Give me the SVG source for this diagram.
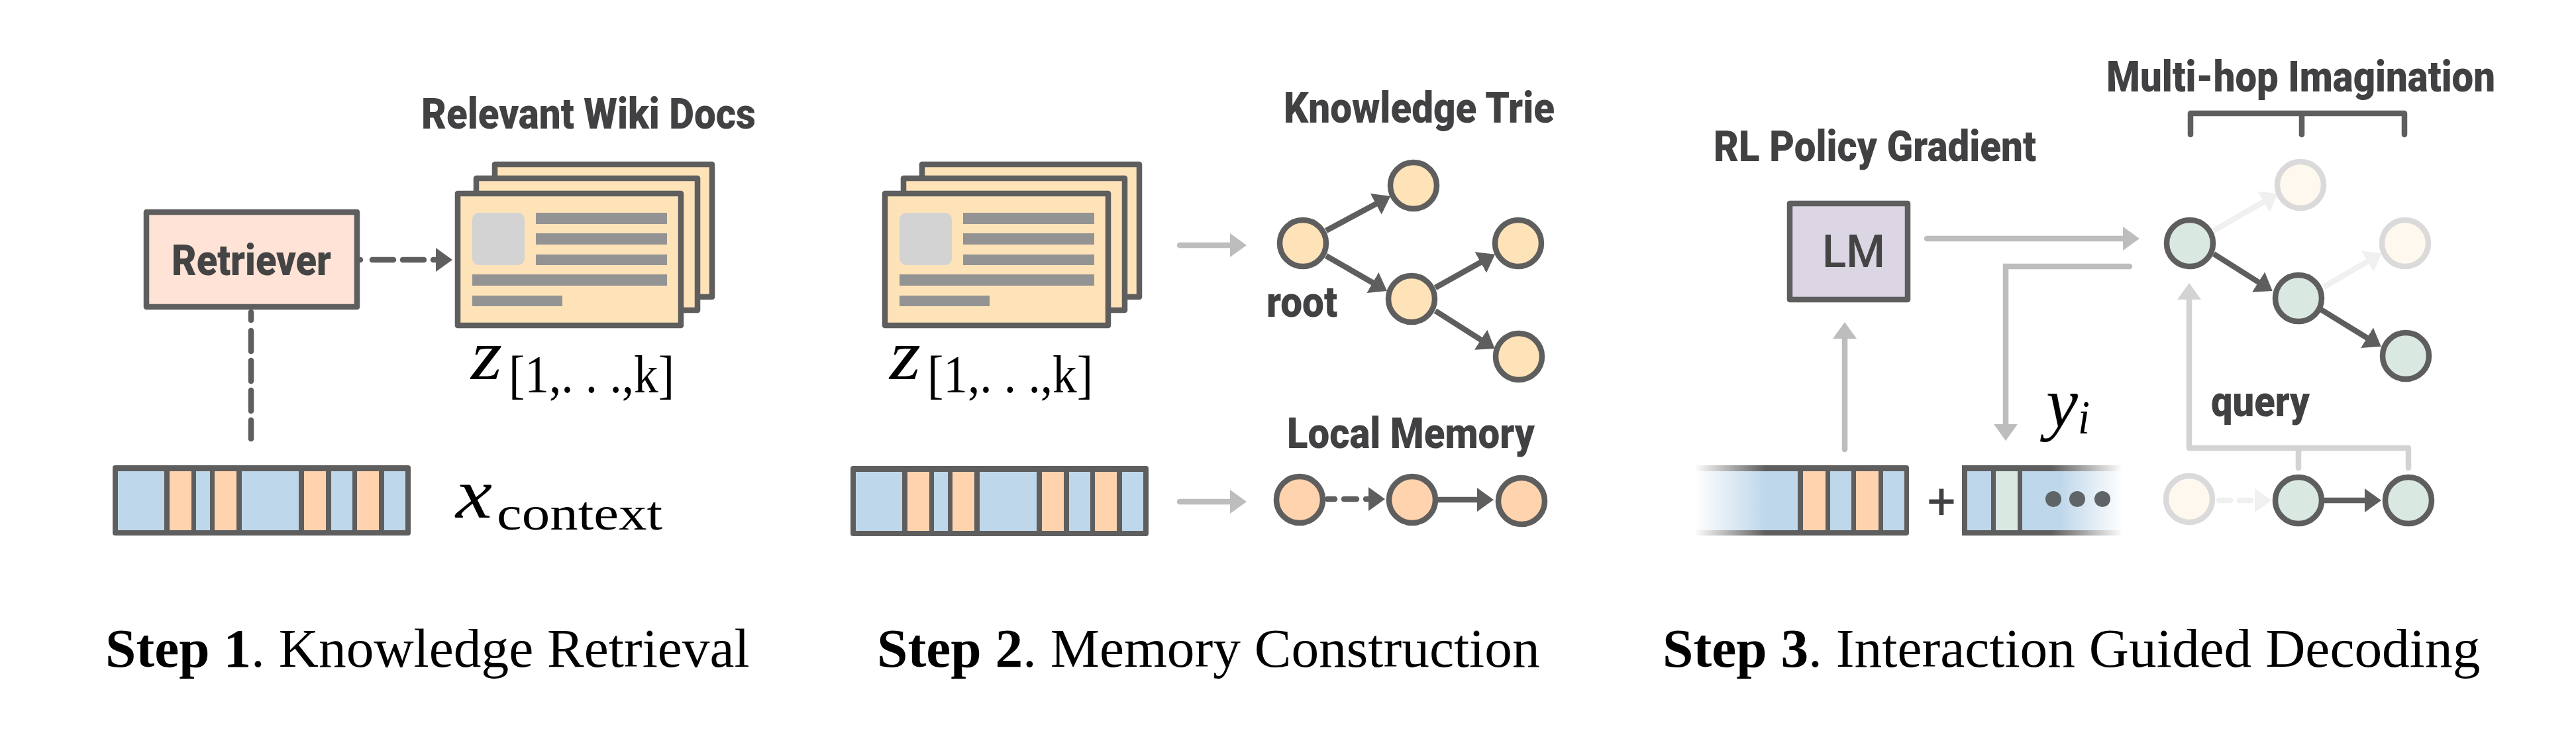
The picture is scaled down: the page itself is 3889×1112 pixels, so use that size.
<svg xmlns="http://www.w3.org/2000/svg" xmlns:xlink="http://www.w3.org/1999/xlink" width="3889" height="1112" viewBox="0 0 3889 1112">
<style>
.lbl{font-family:"Roboto","Liberation Sans",sans-serif;font-weight:900;font-size:65px;fill:#414042}
.math{font-family:"Liberation Serif",serif;fill:#000}
.mi{font-style:italic;font-size:108px}
.ms{font-size:80px}
.cap{font-family:"Liberation Serif",serif;font-size:83.4px;fill:#000}
.cap tspan{font-weight:700}
.n{stroke:#5e5e5e;stroke-width:8.5}
.y{fill:#FEE3B8}.o{fill:#FFD3AE}.g{fill:#D9E8E1}
.ghost{fill:#FFF8EE;stroke:#DADADA;stroke-width:8.5}
.card{fill:#FEE3B8;stroke:#5e5e5e;stroke-width:8.5;stroke-linejoin:round}
.bl{fill:#939393}
.blue{fill:#BFD7EA}.org{fill:#FFD3AE}
.c{fill:none;stroke-width:8.5}
.dk{stroke:#5e5e5e}.gr{stroke:#BDBDBD}.lg{stroke:#D3D3D3}.fa{stroke:#F0F0F0}
</style>
<defs>
<marker id="hd" markerUnits="userSpaceOnUse" markerWidth="25" markerHeight="36" refX="10" refY="18" orient="auto"><path d="M0,0L25,18L0,36z" fill="#5e5e5e"/></marker>
<marker id="hg" markerUnits="userSpaceOnUse" markerWidth="25" markerHeight="36" refX="10" refY="18" orient="auto"><path d="M0,0L25,18L0,36z" fill="#BDBDBD"/></marker>
<marker id="hl" markerUnits="userSpaceOnUse" markerWidth="25" markerHeight="36" refX="10" refY="18" orient="auto"><path d="M0,0L25,18L0,36z" fill="#D3D3D3"/></marker>
<marker id="hf" markerUnits="userSpaceOnUse" markerWidth="25" markerHeight="36" refX="10" refY="18" orient="auto"><path d="M0,0L25,18L0,36z" fill="#F0F0F0"/></marker>
<linearGradient id="fdL" gradientUnits="userSpaceOnUse" x1="2558" y1="0" x2="2666" y2="0"><stop offset="0" stop-color="#fff"/><stop offset="1" stop-color="#5e5e5e"/></linearGradient>
<linearGradient id="blL" gradientUnits="userSpaceOnUse" x1="2558" y1="0" x2="2666" y2="0"><stop offset="0" stop-color="#fff"/><stop offset="1" stop-color="#BFD7EA"/></linearGradient>
<linearGradient id="fdR" gradientUnits="userSpaceOnUse" x1="3097" y1="0" x2="3205" y2="0"><stop offset="0" stop-color="#5e5e5e"/><stop offset="1" stop-color="#fff"/></linearGradient>
<linearGradient id="blR" gradientUnits="userSpaceOnUse" x1="3110" y1="0" x2="3205" y2="0"><stop offset="0" stop-color="#BFD7EA"/><stop offset="1" stop-color="#fff"/></linearGradient>
<g id="docs">
<rect class="card" x="747" y="248" width="328" height="200"/>
<rect class="card" x="719" y="269" width="334" height="199"/>
<rect class="card" x="691" y="292" width="337" height="199"/>
<rect x="713" y="321" width="79" height="79" rx="10" fill="#D3D3D3"/>
<rect class="bl" x="809" y="321" width="198" height="17"/>
<rect class="bl" x="809" y="352" width="198" height="17"/>
<rect class="bl" x="809" y="384" width="198" height="16"/>
<rect class="bl" x="713" y="414" width="294" height="17"/>
<rect class="bl" x="713" y="446" width="136" height="16"/>
</g>
<g id="seq">
<rect x="170" y="702" width="450" height="106" rx="4" fill="#5e5e5e"/>
<rect class="blue" x="178" y="711" width="70" height="89"/>
<rect class="org" x="256" y="711" width="33" height="89"/>
<rect class="blue" x="296" y="711" width="21" height="89"/>
<rect class="org" x="324" y="711" width="33" height="89"/>
<rect class="blue" x="365" y="711" width="86" height="89"/>
<rect class="org" x="459" y="711" width="33" height="89"/>
<rect class="blue" x="500" y="711" width="32" height="89"/>
<rect class="org" x="539" y="711" width="33" height="89"/>
<rect class="blue" x="580" y="711" width="32" height="89"/>
</g>
</defs>
<rect width="3889" height="1112" fill="#fff"/>

<g id="connectors">
<path class="c dk" d="M544,392H668" stroke-dasharray="0 18 32 14 32 14 12 40" stroke-linecap="round" marker-end="url(#hd)"/>
<path class="c dk" d="M379,471V662" stroke-dasharray="12 16 31 14 31 14 31 14 31" stroke-linecap="round"/>
<path class="c gr" d="M1781,370H1867" stroke-linecap="round" marker-end="url(#hg)"/>
<path class="c gr" d="M1781,757H1867" stroke-linecap="round" marker-end="url(#hg)"/>
<path class="c dk" d="M2002,348L2086,303" marker-end="url(#hd)"/>
<path class="c dk" d="M2002,386L2081,431.5" marker-end="url(#hd)"/>
<path class="c dk" d="M2167,434L2244,391" marker-end="url(#hd)"/>
<path class="c dk" d="M2167,469L2244,518" marker-end="url(#hd)"/>
<path class="c dk" d="M2004,753H2076" stroke-dasharray="11 14 19 14 14 40" stroke-linecap="round" marker-end="url(#hd)"/>
<path class="c dk" d="M2171,754H2240" marker-end="url(#hd)"/>
<path class="c gr" d="M2909,360H3215" stroke-linecap="round" marker-end="url(#hg)"/>
<path class="c gr" d="M3215,402H3028V650" stroke-linecap="round" marker-end="url(#hg)"/>
<path class="c gr" d="M2785,678V501" stroke-linecap="round" marker-end="url(#hg)"/>
<path class="c lg" d="M3636,706V676H3305V442" stroke-linecap="round" stroke-linejoin="round" marker-end="url(#hl)"/>
<path class="c lg" d="M3470,676V706" stroke-linecap="round"/>
<path class="c fa" d="M3342,348L3426,299.5" marker-end="url(#hf)"/>
<path class="c fa" d="M3508,433L3583,389.5" marker-end="url(#hf)"/>
<path class="c dk" d="M3342,383L3418,431" marker-end="url(#hd)"/>
<path class="c dk" d="M3504,467L3582,515" marker-end="url(#hd)"/>
<path class="c fa" d="M3350,755H3414" stroke-dasharray="17 14 17 40" stroke-linecap="round" marker-end="url(#hf)"/>
<path class="c dk" d="M3508,755H3580" marker-end="url(#hd)"/>
<path class="c dk" d="M3307,203V171H3630V203M3475,171V203" stroke-linejoin="round" stroke-linecap="round"/>
</g>

<g id="retriever">
<rect x="221" y="320" width="318" height="143" fill="#FEE3D6" stroke="#5e5e5e" stroke-width="8.5" stroke-linejoin="round"/>
<text class="lbl" x="259" y="415" textLength="241" lengthAdjust="spacingAndGlyphs" style="fill:#444">Retriever</text>
</g>
<g id="docs-1">
<use href="#docs" xlink:href="#docs"/>
<text class="lbl" x="636" y="194" textLength="505" lengthAdjust="spacingAndGlyphs">Relevant Wiki Docs</text>
<text class="math mi" x="711" y="572" textLength="47" lengthAdjust="spacingAndGlyphs">z</text>
<text class="math ms" x="768" y="592" textLength="250" lengthAdjust="spacingAndGlyphs">[1,. . .,k]</text>
</g>
<g id="context-1">
<use href="#seq" xlink:href="#seq"/>
<text class="math mi" x="688" y="781" textLength="55" lengthAdjust="spacingAndGlyphs">x</text>
<text class="math" x="750" y="799" font-size="72" textLength="250" lengthAdjust="spacingAndGlyphs">context</text>
</g>

<g id="docs-2">
<use href="#docs" xlink:href="#docs" x="645"/>
<text class="math mi" x="1343" y="572" textLength="47" lengthAdjust="spacingAndGlyphs">z</text>
<text class="math ms" x="1400" y="592" textLength="250" lengthAdjust="spacingAndGlyphs">[1,. . .,k]</text>
</g>
<g id="context-2"><use href="#seq" xlink:href="#seq" x="1114" y="1"/></g>
<g id="trie-labels">
<text class="lbl" x="1938" y="185" textLength="409" lengthAdjust="spacingAndGlyphs">Knowledge Trie</text>
<text class="lbl" x="1912" y="478" textLength="107" lengthAdjust="spacingAndGlyphs">root</text>
<text class="lbl" x="1943" y="676" textLength="374" lengthAdjust="spacingAndGlyphs">Local Memory</text>
</g>
<g id="trie-root"><circle class="n y" cx="1967" cy="367" r="35"/></g>
<g id="trie-a"><circle class="n y" cx="2134" cy="280" r="35"/></g>
<g id="trie-b"><circle class="n y" cx="2131" cy="451" r="35"/></g>
<g id="trie-c"><circle class="n y" cx="2292" cy="367" r="35"/></g>
<g id="trie-d"><circle class="n y" cx="2293" cy="538" r="35"/></g>
<g id="mem-a"><circle class="n o" cx="1962" cy="754" r="35"/></g>
<g id="mem-b"><circle class="n o" cx="2132" cy="754" r="35"/></g>
<g id="mem-c"><circle class="n o" cx="2297" cy="756" r="35"/></g>

<g id="lm">
<rect x="2702" y="307" width="178" height="145" fill="#DCD5E3" stroke="#5e5e5e" stroke-width="8.5" stroke-linejoin="round"/>
<text x="2751" y="403" font-family="Roboto,'Liberation Sans',sans-serif" font-weight="500" font-size="68" fill="#444" textLength="95" lengthAdjust="spacingAndGlyphs">LM</text>
</g>
<g id="step3-labels">
<text class="lbl" x="2587" y="243" textLength="487" lengthAdjust="spacingAndGlyphs">RL Policy Gradient</text>
<text class="lbl" x="3180" y="138" textLength="587" lengthAdjust="spacingAndGlyphs">Multi-hop Imagination</text>
<text class="lbl" x="3338" y="628" textLength="149" lengthAdjust="spacingAndGlyphs">query</text>
<text class="math mi" x="3089" y="644" textLength="48" lengthAdjust="spacingAndGlyphs">y</text>
<text class="math" x="3137" y="654" font-size="72" font-style="italic" textLength="18" lengthAdjust="spacingAndGlyphs">i</text>
</g>
<g id="seq-left">
<rect x="2558" y="702" width="324" height="106" rx="4" fill="url(#fdL)"/>
<rect x="2558" y="711" width="156" height="89" fill="url(#blL)"/>
<rect class="org" x="2722" y="711" width="34" height="89"/>
<rect class="blue" x="2763" y="711" width="32" height="89"/>
<rect class="org" x="2802" y="711" width="34" height="89"/>
<rect class="blue" x="2843" y="711" width="32" height="89"/>
</g>
<text x="2931" y="783" text-anchor="middle" font-family="Roboto,sans-serif" font-size="76" fill="#414042">+</text>
<g id="seq-right">
<rect x="2962" y="702" width="243" height="106" fill="url(#fdR)"/>
<rect class="blue" x="2970" y="711" width="36" height="89"/>
<rect class="g" x="3013" y="711" width="33" height="89"/>
<rect x="3053" y="711" width="152" height="89" fill="url(#blR)"/>
<ellipse cx="3100" cy="753" rx="12" ry="12" fill="#5F6466"/>
<ellipse cx="3136" cy="753" rx="12" ry="12" fill="#5F6466"/>
<ellipse cx="3174" cy="753" rx="12" ry="12" fill="#5F6466"/>
</g>
<g id="imag-a"><circle class="n g" cx="3306" cy="367" r="35"/></g>
<g id="imag-b"><circle class="ghost" cx="3473" cy="279" r="35"/></g>
<g id="imag-c"><circle class="ghost" cx="3631" cy="367" r="35"/></g>
<g id="imag-d"><circle class="n g" cx="3470" cy="450" r="35"/></g>
<g id="imag-e"><circle class="n g" cx="3632" cy="537" r="35"/></g>
<g id="query-a"><circle class="ghost" cx="3305" cy="753" r="35"/></g>
<g id="query-b"><circle class="n g" cx="3470" cy="755" r="35"/></g>
<g id="query-c"><circle class="n g" cx="3636" cy="755" r="35"/></g>

<g id="captions">
<text class="cap" x="159" y="1006"><tspan>Step 1</tspan>. Knowledge Retrieval</text>
<text class="cap" x="1324" y="1006"><tspan>Step 2</tspan>. Memory Construction</text>
<text class="cap" x="2510" y="1006"><tspan>Step 3</tspan>. Interaction Guided Decoding</text>
</g>
</svg>
